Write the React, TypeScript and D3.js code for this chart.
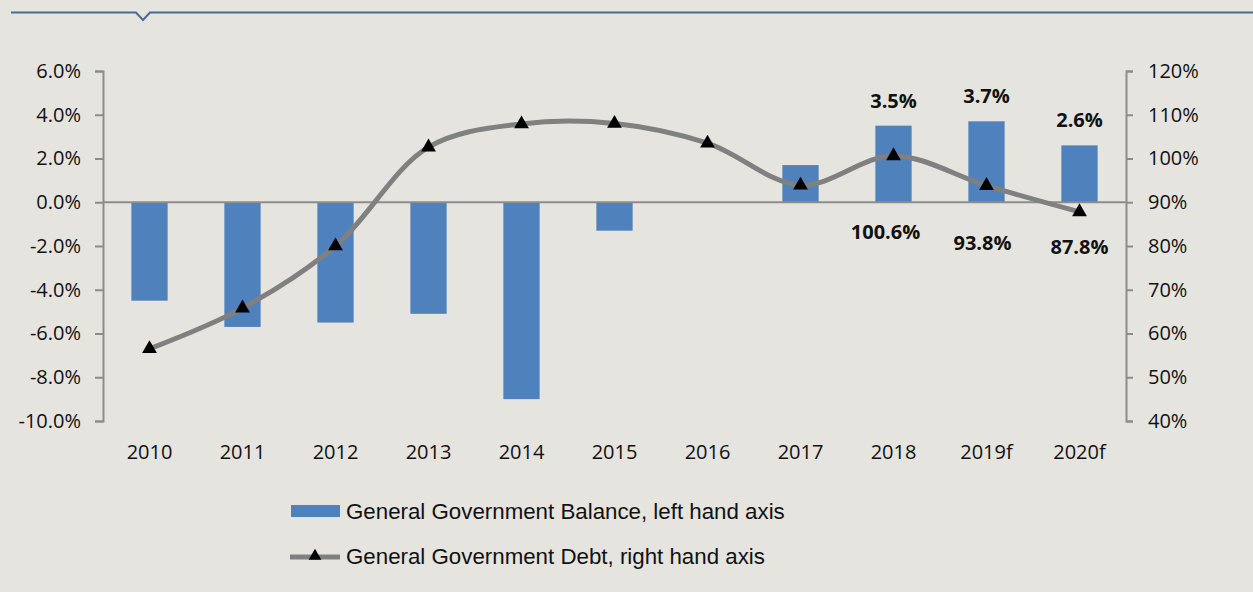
import { useEffect, useRef } from "react";
import * as d3 from "d3";

const YEARS = ["2010", "2011", "2012", "2013", "2014", "2015", "2016", "2017", "2018", "2019f", "2020f"];
const BALANCE = [-4.5, -5.7, -5.5, -5.1, -9.0, -1.3, 0.0, 1.7, 3.5, 3.7, 2.6];
const DEBT = [56.5, 65.8, 80.0, 102.6, 107.9, 108.0, 103.5, 93.9, 100.6, 93.8, 87.8];
const LEFT_TICKS = [6, 4, 2, 0, -2, -4, -6, -8, -10];
const RIGHT_TICKS = [120, 110, 100, 90, 80, 70, 60, 50, 40];
const BAR_LABELS = [
  { i: 8, text: "3.5%" },
  { i: 9, text: "3.7%" },
  { i: 10, text: "2.6%" },
];
const DEBT_LABELS = [
  { i: 8, text: "100.6%", dy: 30, dx: -8 },
  { i: 9, text: "93.8%", dy: 41, dx: -4 },
  { i: 10, text: "87.8%", dy: 45, dx: 0 },
];
const LEGEND = [
  "General Government Balance, left hand axis",
  "General Government Debt, right hand axis",
];

const W = 1253;
const H = 592;
const BG = "#e5e4df";
const BLUE = "#4f81bd";
const GREY = "#808080";
const AXIS = "#8c8c8c";
const FONT = "'Open Sans', sans-serif";

export default function App() {
  const ref = useRef<SVGSVGElement>(null);

  useEffect(() => {
    const svg = d3.select(ref.current);
    svg.selectAll("*").remove();

    const left = 103;
    const right = 1126;
    const top = 71;
    const bottom = 421;

    const x = d3.scaleBand().domain(YEARS).range([left, right]).paddingInner(0.61).paddingOuter(0.305);
    const yL = d3.scaleLinear().domain([-10, 6]).range([bottom, top]);
    const yR = d3.scaleLinear().domain([40, 120]).range([bottom, top]);
    const cx = (i: number) => x(YEARS[i])! + x.bandwidth() / 2;

    svg.append("rect").attr("width", W).attr("height", H).attr("fill", BG);

    // header rule with notch
    svg
      .append("path")
      .attr("d", "M11,12.5 H136 L143,20 L150,12.5 H1253")
      .attr("fill", "none")
      .attr("stroke", "#4a6b93")
      .attr("stroke-width", 2);

    // bars
    svg
      .append("g")
      .selectAll("rect")
      .data(BALANCE)
      .join("rect")
      .attr("x", (_, i) => x(YEARS[i])!)
      .attr("y", (d) => yL(Math.max(0, d)))
      .attr("width", x.bandwidth())
      .attr("height", (d) => Math.abs(yL(d) - yL(0)))
      .attr("fill", BLUE);

    // zero line
    svg
      .append("line")
      .attr("x1", left)
      .attr("x2", right)
      .attr("y1", yL(0))
      .attr("y2", yL(0))
      .attr("stroke", AXIS)
      .attr("stroke-width", 2);

    // left axis
    const gl = svg.append("g").attr("transform", `translate(${left},0)`);
    gl.call(d3.axisLeft(yL).tickValues(LEFT_TICKS).tickSize(8).tickPadding(14).tickFormat((d) => `${(+d).toFixed(1)}%`));
    gl.select(".domain").attr("stroke", AXIS).attr("stroke-width", 2);
    gl.selectAll(".tick line").attr("stroke", AXIS).attr("stroke-width", 2);
    gl.selectAll(".tick text").attr("fill", "#111").attr("font-size", 20).attr("font-family", FONT);

    // right axis
    const gr = svg.append("g").attr("transform", `translate(${right},0)`);
    gr.call(d3.axisRight(yR).tickValues(RIGHT_TICKS).tickSize(7).tickPadding(15).tickFormat((d) => `${d}%`));
    gr.select(".domain").attr("stroke", AXIS).attr("stroke-width", 2);
    gr.selectAll(".tick line").attr("stroke", AXIS).attr("stroke-width", 2);
    gr.selectAll(".tick text").attr("fill", "#111").attr("font-size", 20).attr("font-family", FONT);

    // x labels
    svg
      .append("g")
      .selectAll("text")
      .data(YEARS)
      .join("text")
      .attr("x", (_, i) => cx(i))
      .attr("y", 452)
      .attr("dy", "0.35em")
      .attr("text-anchor", "middle")
      .attr("font-size", 20)
      .attr("font-family", FONT)
      .attr("fill", "#111")
      .text((d) => d);

    // debt line
    const line = d3
      .line<number>()
      .x((_, i) => cx(i))
      .y((d) => yR(d))
      .curve(d3.curveCatmullRom.alpha(0.5));
    svg
      .append("path")
      .attr("d", line(DEBT)!)
      .attr("fill", "none")
      .attr("stroke", GREY)
      .attr("stroke-width", 5);

    const tri = d3.symbol().type(d3.symbolTriangle).size(95);
    svg
      .append("g")
      .selectAll("path")
      .data(DEBT)
      .join("path")
      .attr("d", tri()!)
      .attr("transform", (d, i) => `translate(${cx(i)},${yR(d)})`)
      .attr("fill", "#000");

    // data labels
    svg
      .append("g")
      .selectAll("text")
      .data(BAR_LABELS)
      .join("text")
      .attr("x", (d) => cx(d.i))
      .attr("y", (d) => yL(BALANCE[d.i]) - 25)
      .attr("dy", "0.35em")
      .attr("text-anchor", "middle")
      .attr("font-size", 20)
      .attr("font-weight", "bold")
      .attr("font-family", FONT)
      .attr("fill", "#111")
      .text((d) => d.text);

    svg
      .append("g")
      .selectAll("text")
      .data(DEBT_LABELS)
      .join("text")
      .attr("x", (d) => cx(d.i) + d.dx)
      .attr("y", (d) => yL(0) + d.dy)
      .attr("dy", "0.35em")
      .attr("text-anchor", "middle")
      .attr("font-size", 20)
      .attr("font-weight", "bold")
      .attr("font-family", FONT)
      .attr("fill", "#111")
      .text((d) => d.text);

    // legend
    const lg = svg.append("g");
    lg.append("rect").attr("x", 291).attr("y", 505).attr("width", 49).attr("height", 12).attr("fill", BLUE);
    lg.append("line")
      .attr("x1", 290)
      .attr("x2", 340)
      .attr("y1", 557)
      .attr("y2", 557)
      .attr("stroke", GREY)
      .attr("stroke-width", 5);
    lg.append("path")
      .attr("d", d3.symbol().type(d3.symbolTriangle).size(70)()!)
      .attr("transform", "translate(315,556)")
      .attr("fill", "#000");
    lg.selectAll("text")
      .data(LEGEND)
      .join("text")
      .attr("x", 346)
      .attr("y", (_, i) => 511 + i * 45.5)
      .attr("dy", "0.35em")
      .attr("font-size", 22.3)
      .attr("font-family", "'Liberation Sans', Arial, sans-serif")
      .attr("fill", "#111")
      .text((d) => d);
  }, []);

  return (
    <svg
      ref={ref}
      width={W}
      height={H}
      style={{ position: "absolute", left: 0, top: 0, display: "block" }}
    />
  );
}
